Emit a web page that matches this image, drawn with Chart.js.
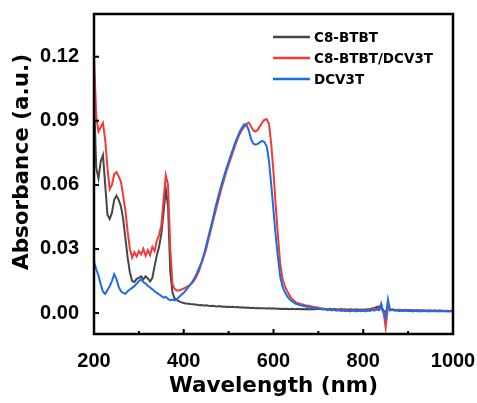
<!DOCTYPE html>
<html>
<head>
<meta charset="utf-8">
<script src="https://cdn.jsdelivr.net/npm/chart.js@4.4.1/dist/chart.umd.min.js"></script>
<style>
  html, body { margin: 0; padding: 0; background: #fff; }
</style>
</head>
<body>
<canvas id="absChart" width="477" height="403"></canvas>
<script>
// UV-vis absorption spectra, sampled every 5 nm
const wavelength = [
  200, 205, 210, 215, 220, 225, 230, 235, 240, 245,
  250, 255, 260, 265, 270, 275, 280, 285, 290, 295,
  300, 305, 310, 315, 320, 325, 330, 335, 340, 345,
  350, 355, 360, 365, 370, 375, 380, 385, 390, 395,
  400, 405, 410, 415, 420, 425, 430, 435, 440, 445,
  450, 455, 460, 465, 470, 475, 480, 485, 490, 495,
  500, 505, 510, 515, 520, 525, 530, 535, 540, 545,
  550, 555, 560, 565, 570, 575, 580, 585, 590, 595,
  600, 605, 610, 615, 620, 625, 630, 635, 640, 645,
  650, 655, 660, 665, 670, 675, 680, 685, 690, 695,
  700, 705, 710, 715, 720, 725, 730, 735, 740, 745,
  750, 755, 760, 765, 770, 775, 780, 785, 790, 795,
  800, 805, 810, 815, 820, 825, 830, 835, 840, 845,
  850, 855, 860, 865, 870, 875, 880, 885, 890, 895,
  900, 905, 910, 915, 920, 925, 930, 935, 940, 945,
  950, 955, 960, 965, 970, 975, 980, 985, 990, 995,
  1000
];

const btbt = [
  .101, .068, .063, .071, .074, .060, .046, .044, .047, .053,
  .055, .053, .050, .044, .035, .026, .019, .015, .0145, .016,
  .0165, .0172, .0158, .0172, .0162, .0148, .0165, .022, .027, .031,
  .037, .047, .058, .050, .019, .0095, .0068, .006, .0055, .005,
  .0047, .0045, .0044, .0042, .0041, .004, .0039, .0037, .0038, .0035,
  .0036, .0034, .0033, .0034, .0032, .0031, .0033, .003, .0031, .0029,
  .003, .0028, .0029, .0027, .0028, .0026, .0027, .0025, .0026, .0025,
  .0024, .0025, .0023, .0024, .0022, .0023, .0022, .0021, .0023, .0021,
  .0022, .002, .0021, .0019, .002, .0019, .002, .0018, .002, .0019,
  .0018, .002, .0018, .0019, .0018, .0019, .0017, .0019, .0018, .0019,
  .0019, .002, .0018, .0019, .0018, .002, .0017, .0019, .0018, .0017,
  .0019, .0017, .0018, .0016, .0018, .0017, .0016, .0018, .0016, .0017,
  .0016, .0017, .0018, .0019, .0021, .0024, .0028, .003, .0026, .0012,
  .0004, .0022, .0016, .0015, .0016, .0014, .0015, .0014, .0013, .0015,
  .0013, .0014, .0013, .0012, .0014, .0012, .0013, .0012, .0011, .0013,
  .0012, .0011, .0012, .0011, .0012, .0011, .001, .0011, .001, .0011,
  .001
];

const blend = [
  .120, .092, .085, .087, .089, .081, .068, .058, .060, .065,
  .066, .064, .0615, .055, .048, .038, .030, .026, .0285, .0265,
  .029, .0275, .030, .0268, .0295, .0272, .031, .029, .034, .0365,
  .041, .053, .0645, .060, .030, .0135, .0112, .0105, .0107, .011,
  .0115, .012, .0127, .0135, .0143, .0158, .0178, .0203, .0237, .0268,
  .030, .0343, .0385, .0428, .047, .051, .0552, .059, .0627, .0663,
  .0695, .0725, .0757, .0787, .0815, .084, .0858, .0873, .0886, .0892,
  .0873, .0855, .085, .0858, .0875, .0893, .0905, .0908, .0885, .079,
  .066, .050, .036, .023, .016, .0128, .0105, .0085, .007, .006,
  .005, .0046, .0043, .004, .0037, .0035, .0033, .0031, .0029, .0027,
  .0025, .0022, .0021, .0018, .0019, .0016, .0017, .0014, .0016, .0013,
  .0015, .0012, .0014, .0011, .0013, .0012, .0010, .0014, .0011, .0013,
  .0010, .0012, .0015, .0013, .0017, .0021, .0016, .0024, .0019, .0008,
  -.0068, .0030, .0015, .0017, .0013, .0014, .0012, .0013, .0011, .0013,
  .0012, .0011, .0013, .0010, .0012, .0011, .0010, .0012, .0011, .0009,
  .0011, .0010, .0012, .0010, .0009, .0011, .0010, .0009, .0010, .0009,
  .0009
];

const dcv3t = [
  .024, .0205, .0175, .0135, .010, .009, .0108, .0125, .015, .0182,
  .016, .0122, .0102, .0094, .009, .0102, .011, .0118, .0126, .0138,
  .015, .0158, .0145, .0138, .0128, .012, .0112, .0102, .0094, .0088,
  .008, .0072, .0076, .0066, .006, .0063, .0059, .0066, .0077, .0086,
  .0095, .0107, .012, .0135, .015, .0168, .019, .0215, .024, .0275,
  .0315, .0358, .040, .0443, .049, .053, .057, .0608, .0643, .0677,
  .0708, .074, .077, .080, .0826, .085, .0868, .0884, .088, .0855,
  .0815, .0793, .0788, .0792, .080, .0806, .080, .078, .071, .060,
  .048, .036, .026, .017, .0125, .010, .008, .0067, .0057, .005,
  .0043, .004, .0036, .0034, .0032, .0029, .0028, .0026, .0024, .0023,
  .0022, .0019, .0017, .002, .0014, .0016, .0012, .0015, .0011, .0014,
  .001, .0013, .0009, .0012, .0008, .0011, .0013, .0008, .0012, .0009,
  .0013, .0008, .0012, .001, .0015, .0011, .0019, .0014, .0045, .0002,
  -.0025, .0063, .0012, .0016, .0011, .0013, .0009, .0012, .001, .0012,
  .0009, .0011, .0008, .0011, .0009, .001, .0008, .0011, .0009, .001,
  .0008, .001, .0009, .0008, .001, .0009, .0008, .0009, .0008, .0009,
  .0009
];

const seriesNames = ['C8-BTBT', 'C8-BTBT/DCV3T', 'DCV3T'];
const seriesColors = ['#474747', '#f03a3c', '#1d6de2'];

const xTicks = [200, 400, 600, 800, 1000];
const xMinorTicks = [300, 500, 700, 900];
const yTicks = [0, 0.03, 0.06, 0.09, 0.12];

const toPoints = vals => wavelength.map((w, i) => ({ x: w, y: vals[i] }));

const tickFont = { family: 'Arial, "Liberation Sans", sans-serif', size: 20, weight: 'bold' };
const titleFont = { family: '"DejaVu Sans", sans-serif', size: 21.5, weight: 'bold' };

// box frame with inward ticks, plus the rotated y title
const frame = {
  id: 'frame',
  afterDraw(chart) {
    const { ctx, chartArea: a, scales: { x, y } } = chart;
    ctx.save();
    ctx.strokeStyle = '#000';
    ctx.lineWidth = 2.5;
    ctx.strokeRect(a.left, a.top, a.right - a.left, a.bottom - a.top);
    ctx.lineWidth = 2;
    ctx.beginPath();
    xTicks.forEach(v => {
      const px = x.getPixelForValue(v);
      ctx.moveTo(px, a.bottom);
      ctx.lineTo(px, a.bottom - 5);
    });
    xMinorTicks.forEach(v => {
      const px = x.getPixelForValue(v);
      ctx.moveTo(px, a.bottom);
      ctx.lineTo(px, a.bottom - 3);
    });
    yTicks.forEach(v => {
      const py = y.getPixelForValue(v);
      ctx.moveTo(a.left, py);
      ctx.lineTo(a.left + 5, py);
    });
    ctx.stroke();

    ctx.translate(22, 162);
    ctx.rotate(-Math.PI / 2);
    ctx.font = 'bold 21.5px "DejaVu Sans"';
    ctx.fillStyle = '#000';
    ctx.textAlign = 'center';
    ctx.textBaseline = 'middle';
    ctx.fillText('Absorbance (a.u.)', 0, 0);
    ctx.restore();
  }
};

// legend inside the plot, top right
const insideLegend = {
  id: 'insideLegend',
  afterDraw(chart) {
    const { ctx } = chart;
    ctx.save();
    ctx.font = 'bold 13.5px "DejaVu Sans"';
    ctx.textBaseline = 'middle';
    chart.data.datasets.forEach((ds, i) => {
      const yy = 37 + i * 21;
      ctx.strokeStyle = ds.borderColor;
      ctx.lineWidth = 2.5;
      ctx.beginPath();
      ctx.moveTo(273, yy);
      ctx.lineTo(310, yy);
      ctx.stroke();
      ctx.fillStyle = '#000';
      ctx.fillText(ds.label, 314, yy + 1);
    });
    ctx.restore();
  }
};

new Chart(document.getElementById('absChart'), {
  type: 'line',
  data: {
    datasets: [btbt, blend, dcv3t].map((vals, i) => ({
      label: seriesNames[i],
      data: toPoints(vals),
      borderColor: seriesColors[i],
      borderWidth: 2,
      pointRadius: 0,
      tension: 0,
      fill: false,
      order: 2 - i
    }))
  },
  options: {
    responsive: false,
    animation: false,
    layout: { padding: { top: 14, right: 24, left: 0, bottom: 0 } },
    plugins: {
      legend: { display: false },
      tooltip: { enabled: false }
    },
    scales: {
      x: {
        type: 'linear',
        min: 200,
        max: 1000,
        grid: { display: false },
        border: { display: false },
        afterBuildTicks: s => { s.ticks = xTicks.map(v => ({ value: v })); },
        afterFit: s => {
          s.height = 69;
          s.paddingLeft = 0;
          s.paddingRight = 0;
        },
        ticks: {
          color: '#000',
          font: tickFont,
          padding: 7,
          maxRotation: 0,
          callback: v => String(v)
        },
        title: {
          display: true,
          text: 'Wavelength (nm)',
          color: '#000',
          font: titleFont,
          padding: { top: 0, bottom: 4 }
        }
      },
      y: {
        min: -0.0098,
        max: 0.140,
        grid: { display: false },
        border: { display: false },
        afterBuildTicks: s => { s.ticks = yTicks.map(v => ({ value: v })); },
        afterFit: s => {
          s.width = 94;
          s.paddingTop = 0;
          s.paddingBottom = 0;
        },
        ticks: {
          color: '#000',
          font: tickFont,
          padding: 7,
          callback: v => v.toFixed(2)
        }
      }
    }
  },
  plugins: [frame, insideLegend]
});
</script>
</body>
</html>
